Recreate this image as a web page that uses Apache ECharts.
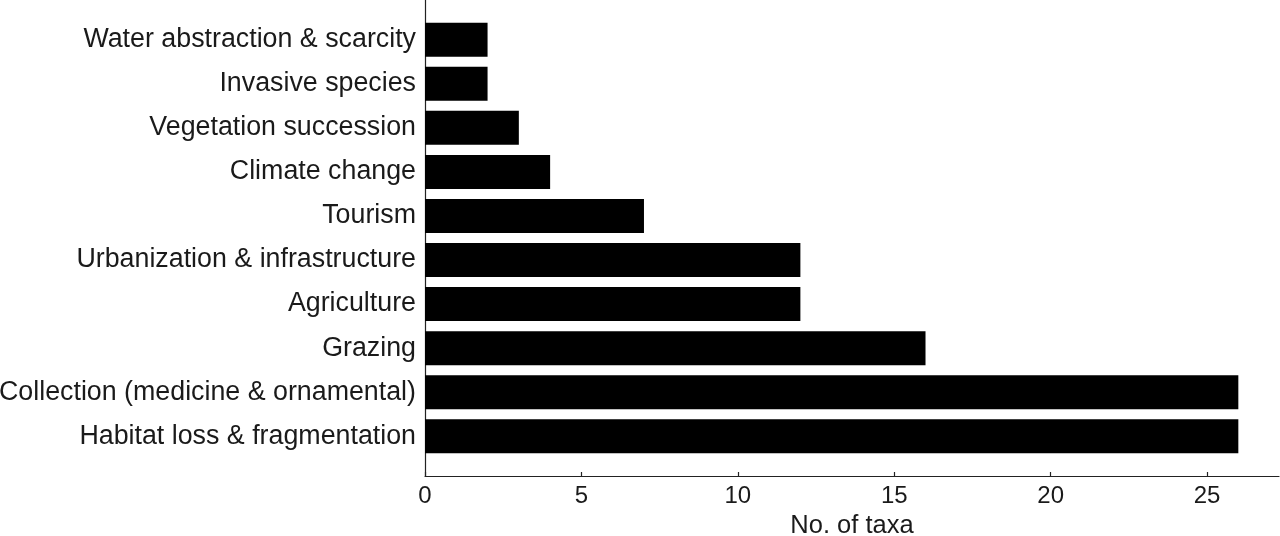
<!DOCTYPE html>
<html>
<head>
<meta charset="utf-8">
<script src="https://cdn.jsdelivr.net/npm/echarts@6/dist/echarts.min.js"></script>
<style>html,body{margin:0;padding:0;background:#fff}#c{width:1280px;height:536px}</style>
</head>
<body>
<div id="c"></div>
<script>
// Categories listed bottom-to-top (ECharts category y axis starts at the bottom)
var categories = [
  'Habitat loss & fragmentation',
  'Collection (medicine & ornamental)',
  'Grazing',
  'Agriculture',
  'Urbanization & infrastructure',
  'Tourism',
  'Climate change',
  'Vegetation succession',
  'Invasive species',
  'Water abstraction & scarcity'
];
var taxaCounts = [26, 26, 16, 12, 12, 7, 4, 3, 2, 2];
var xTicks = [0, 5, 10, 15, 20, 25];
var xMax = 27.3;

var font = '"Liberation Sans", Arial, sans-serif';
var narrow = '"Liberation Sans Narrow", "Arial Narrow", "Liberation Sans", sans-serif';
var chart = echarts.init(document.getElementById('c'), null, {renderer: 'canvas'});
chart.setOption({
  animation: false,
  backgroundColor: '#fff',
  grid: [
    {left: 425, right: 1, top: 17.7, bottom: 77.7, containLabel: false, outerBoundsMode: 'none'},
    {left: 425, right: 1, top: 0, bottom: 60, containLabel: false, outerBoundsMode: 'none'}
  ],
  xAxis: [
    {gridIndex: 0, type: 'value', min: 0, max: xMax, show: false},
    {gridIndex: 1, type: 'value', min: 0, max: xMax, interval: 5,
     name: 'No. of taxa', nameLocation: 'middle', nameGap: 36,
     nameTextStyle: {fontFamily: font, fontSize: 25.5, color: '#1a1a1a'},
     axisLine: {show: true, lineStyle: {color: '#222', width: 1.2}},
     axisTick: {show: true, inside: true, length: 4, lineStyle: {color: '#222', width: 1.2}},
     axisLabel: {show: true, fontFamily: narrow, fontSize: 24, color: '#1a1a1a', margin: 8,
       formatter: function (v) { return xTicks.indexOf(v) >= 0 ? String(v) : ''; },
       showMaxLabel: false},
     splitLine: {show: false}}
  ],
  yAxis: [
    {gridIndex: 0, type: 'category', data: categories,
     axisLine: {show: false}, axisTick: {show: false},
     axisLabel: {fontFamily: font, fontSize: 26.8, color: '#1a1a1a', margin: 9},
     splitLine: {show: false}},
    {gridIndex: 1, type: 'value', min: 0, max: 1,
     axisLine: {show: true, lineStyle: {color: '#222', width: 1.2}},
     axisTick: {show: false}, axisLabel: {show: false}, splitLine: {show: false}}
  ],
  series: [{
    type: 'bar', xAxisIndex: 0, yAxisIndex: 0,
    data: taxaCounts, barWidth: 34,
    itemStyle: {color: '#000'}
  }]
});
</script>
</body>
</html>
